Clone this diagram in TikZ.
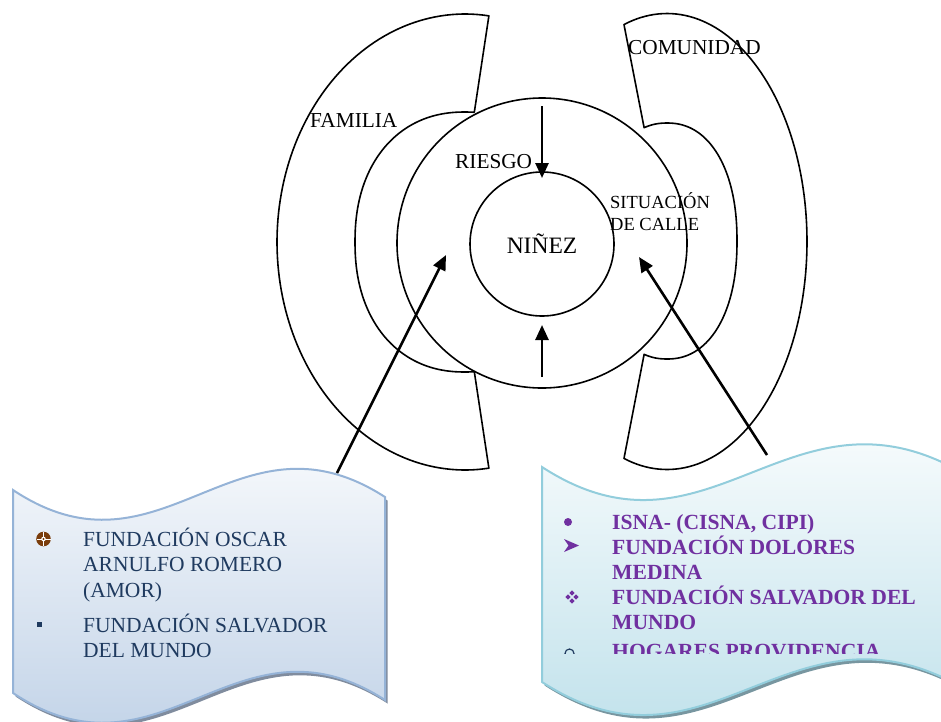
\documentclass[tikz,border=0pt]{standalone}
\usepackage{fontspec}
\setmainfont{Liberation Serif}
\usetikzlibrary{arrows.meta}
\definecolor{leftborder}{RGB}{149,179,215}
\definecolor{leftfill}{RGB}{184,204,228}
\definecolor{rightborder}{RGB}{146,205,220}
\definecolor{rightfill}{RGB}{183,221,232}
\definecolor{leftshadow}{RGB}{128,140,158}
\definecolor{rightshadow}{RGB}{120,150,160}
\definecolor{navytext}{RGB}{31,58,95}
\definecolor{purpletext}{RGB}{112,48,160}
\definecolor{bulletbrown}{RGB}{122,61,12}
\begin{document}
\begin{tikzpicture}[x=1pt,y=-1pt,
  declare function={sc(\t)=cos(\t)*pow(abs(cos(\t))+0.0001,-0.0909);
                    ss(\t)=sin(\t)*pow(abs(sin(\t))+0.0001,-0.0909);},
  ring/.style={draw=black,line width=1.6pt,line join=round},
  arrowline/.style={draw=black,line width=2.6pt,-{Triangle[length=15pt,width=13pt]}},
  lbl/.style={inner sep=0pt,anchor=base west,font=\fontsize{21.3}{25}\selectfont},
  smalllbl/.style={inner sep=0pt,anchor=base west,font=\fontsize{18.5}{22}\selectfont},
  lefttext/.style={inner sep=0pt,anchor=base west,text=navytext,font=\fontsize{21.5}{25}\selectfont},
  righttext/.style={inner sep=0pt,anchor=base west,text=purpletext,font=\bfseries\fontsize{21.6}{25}\selectfont},
  leftbox/.style={draw=leftborder,line width=2pt,top color=white,bottom color=leftfill},
  rightbox/.style={draw=rightborder,line width=2pt,top color=white,bottom color=rightfill},
]
\useasboundingbox (0,0) rectangle (941,721);

% ---------- FAMILIA block arc ----------
\draw[ring] plot[domain=277.3:82.7,samples=120] ({465+188*cos(\x)},{242+228*sin(\x)})
  -- plot[domain=86.2:273.8,samples=120] ({465+110*sc(\x)},{242+130*ss(\x)}) -- cycle;

% ---------- COMUNIDAD block arc ----------
\draw[ring] plot[domain=-107.9:107.9,samples=120] ({667+140*cos(\x)},{241.5+228*sin(\x)})
  -- plot[domain=107:-107,samples=120] ({667+70*sc(\x)},{241+118*ss(\x)}) -- cycle;

% ---------- rings ----------
\node[ring,circle,minimum size=290pt,inner sep=0pt] (riesgo) at (542,243) {};
\node[ring,circle,minimum size=144pt,inner sep=0pt,font=\fontsize{23.5}{26}\selectfont] (ninez) at (542,244) {NIÑEZ};

% ---------- labels ----------
\node[lbl] (familia) at (310,127) {FAMILIA};
\node[lbl] (riesgolbl) at (455,168) {RIESGO};
\node[smalllbl] (situ1) at (610,208) {SITUACIÓN};
\node[smalllbl] (situ2) at (610,230) {DE CALLE};
\node[lbl] (comunidad) at (628,54) {COMUNIDAD};

% ---------- left wave box ----------
\fill[leftshadow,shift={(2.5,3.5)}] (13,490) .. controls (162,589) and (236,401) .. (385,497)
  -- (385,700) .. controls (236,604) and (162,792) .. (13,693) -- cycle;
\path[leftbox] (13,490) .. controls (162,589) and (236,401) .. (385,497)
  -- (385,700) .. controls (236,604) and (162,792) .. (13,693) -- cycle;
\coordinate (leftboxtop) at (337,473);

% bullets left
\fill[bulletbrown] (43.5,539) circle[radius=7.3];
\draw[white,line width=1pt] (36.5,539) -- (50.5,539) (43.5,532) -- (43.5,546);
\fill[white] (43.5,539) circle[radius=2.3];
\fill[bulletbrown] (43.5,539) circle[radius=1.1];
\fill[navytext] (37,621.5) rectangle (42,626.5);

\node[lefttext] (l1) at (83,546) {FUNDACIÓN OSCAR};
\node[lefttext] (l2) at (83,571.5) {ARNULFO ROMERO};
\node[lefttext] (l3) at (83,597) {(AMOR)};
\node[lefttext] (l4) at (83,632) {FUNDACIÓN SALVADOR};
\node[lefttext] (l5) at (83,657) {DEL MUNDO};

% ---------- right wave box ----------
\fill[rightshadow,shift={(2.5,3.5)}] (542,467) .. controls (703.6,572) and (784.4,386) .. (946,464)
  -- (946,679) .. controls (784.4,601) and (703.6,787) .. (542,682) -- cycle;
\path[rightbox] (542,467) .. controls (703.6,572) and (784.4,386) .. (946,464)
  -- (946,679) .. controls (784.4,601) and (703.6,787) .. (542,682) -- cycle;
\coordinate (rightboxtop) at (767,455);

\begin{scope}
\clip (545,500) rectangle (941,653);
% bullets right
\fill[purpletext] (568,522) circle[radius=4];
\fill[purpletext] (579,545.5) -- (564,539) -- (568.5,545.5) -- (564,552) -- cycle;
\foreach \dx/\dy in {-4/0,4/0,0/-4,0/4}
  \fill[purpletext] (572+\dx,597+\dy) ++(-2.6,0) -- ++(2.6,-2.6) -- ++(2.6,2.6) -- ++(-2.6,2.6) -- cycle;
\draw[navytext,line width=1.2pt] (569.5,653.5) circle[radius=4.5];
\node[righttext] (r1) at (612,529) {ISNA- (CISNA, CIPI)};
\node[righttext] (r2) at (612,554) {FUNDACIÓN DOLORES};
\node[righttext] (r3) at (612,579) {MEDINA};
\node[righttext] (r4) at (612,604) {FUNDACIÓN SALVADOR DEL};
\node[righttext] (r5) at (612,629) {MUNDO};
\node[righttext] (r6) at (612,658) {HOGARES PROVIDENCIA};
\end{scope}

% ---------- arrows ----------
\coordinate (topstart) at (542,106);
\coordinate (toptip) at (542,178);
\coordinate (botstart) at (542,377);
\coordinate (bottip) at (542,325);
\coordinate (lefttip) at (446,255);
\coordinate (righttip) at (639,257);
\draw[arrowline] (topstart) -- (toptip);
\draw[arrowline] (botstart) -- (bottip);
\draw[arrowline] (leftboxtop) -- (lefttip);
\draw[arrowline] (rightboxtop) -- (righttip);
\end{tikzpicture}
\end{document}
